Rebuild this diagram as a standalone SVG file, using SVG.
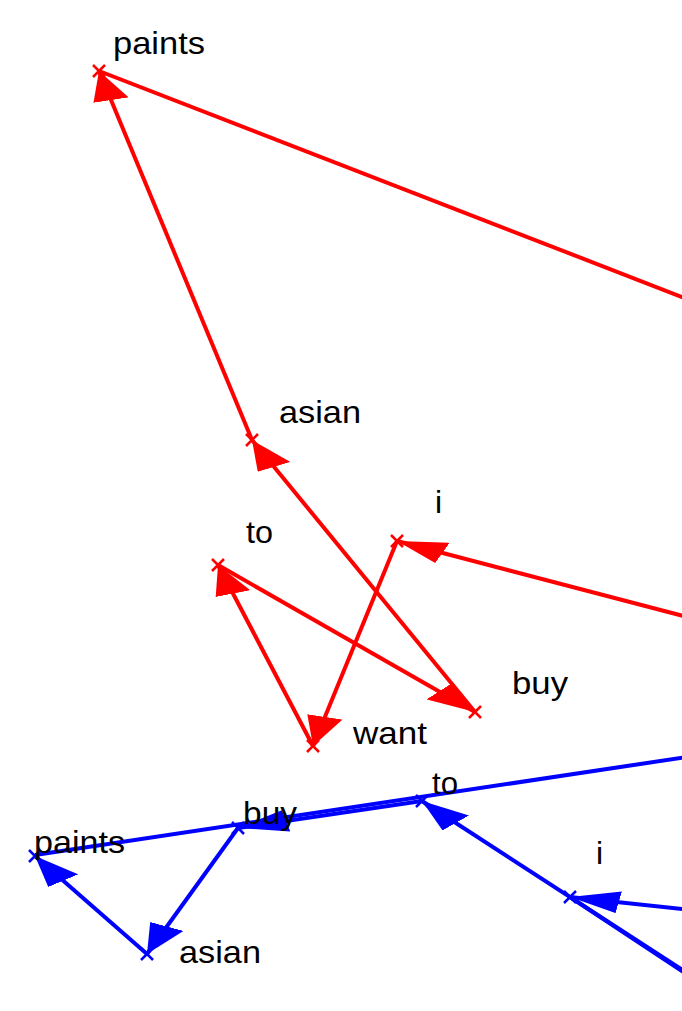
<svg xmlns="http://www.w3.org/2000/svg" width="682" height="1011" viewBox="0 0 682 1011">
  <style>
    .lbl { font-family: "Liberation Sans", Arial, sans-serif; font-size: 32px; fill: #000; }
    .er { stroke: #ff0000; stroke-width: 4; fill: none; }
    .eb { stroke: #0000ff; stroke-width: 4; fill: none; }
    .xr { stroke: #ff0000; stroke-width: 2.5; fill: none; }
    .xb { stroke: #0000ff; stroke-width: 2.5; fill: none; }
  </style>
  <defs>
    <marker id="ahr" markerUnits="userSpaceOnUse" viewBox="0 0 30 22" markerWidth="30" markerHeight="22" refX="30" refY="11" orient="auto">
      <path d="M0,0 L30,11 L0,22 Z" fill="#ff0000"/>
    </marker>
    <marker id="ahb" markerUnits="userSpaceOnUse" viewBox="0 0 30 22" markerWidth="30" markerHeight="22" refX="30" refY="11" orient="auto">
      <path d="M0,0 L30,11 L0,22 Z" fill="#0000ff"/>
    </marker>
    <path id="xm" d="M-6,-6 L6,6 M-6,6 L6,-6"/>
  </defs>
  <rect width="682" height="1011" fill="#ffffff"/>

  <g id="connectors" transform="scale(1.65,1)">
    <line class="er" vector-effect="non-scaling-stroke" x1="424.24" y1="620.4" x2="240.61" y2="541" marker-end="url(#ahr)"/>
    <line class="er" vector-effect="non-scaling-stroke" x1="240.61" y1="541" x2="189.70" y2="746" marker-end="url(#ahr)"/>
    <line class="er" vector-effect="non-scaling-stroke" x1="189.70" y1="746" x2="132.12" y2="565" marker-end="url(#ahr)"/>
    <line class="er" vector-effect="non-scaling-stroke" x1="132.12" y1="565" x2="287.88" y2="712" marker-end="url(#ahr)"/>
    <line class="er" vector-effect="non-scaling-stroke" x1="287.88" y1="712" x2="152.73" y2="440" marker-end="url(#ahr)"/>
    <line class="er" vector-effect="non-scaling-stroke" x1="152.73" y1="440" x2="60.00" y2="71" marker-end="url(#ahr)"/>
    <line class="er" vector-effect="non-scaling-stroke" x1="60.00" y1="71" x2="424.24" y2="304"/>

    <line class="eb" vector-effect="non-scaling-stroke" x1="424.24" y1="911" x2="345.45" y2="897" marker-end="url(#ahb)"/>
    <line class="eb" vector-effect="non-scaling-stroke" x1="345.45" y1="897" x2="424.24" y2="983"/>
    <line class="eb" vector-effect="non-scaling-stroke" x1="424.24" y1="981.3" x2="255.76" y2="801" marker-end="url(#ahb)"/>
    <line class="eb" vector-effect="non-scaling-stroke" x1="255.76" y1="801" x2="144.24" y2="828" marker-end="url(#ahb)"/>
    <line class="eb" vector-effect="non-scaling-stroke" x1="144.24" y1="828" x2="89.09" y2="954" marker-end="url(#ahb)"/>
    <line class="eb" vector-effect="non-scaling-stroke" x1="89.09" y1="954" x2="21.21" y2="856" marker-end="url(#ahb)"/>
    <line class="eb" vector-effect="non-scaling-stroke" x1="21.21" y1="855" x2="424.24" y2="755"/>
  </g>

  <g id="red-paints"><use href="#xm" class="xr" x="99" y="71"/><text class="lbl" x="113" y="54" textLength="92" lengthAdjust="spacingAndGlyphs">paints</text></g>
  <g id="red-asian"><use href="#xm" class="xr" x="252" y="440"/><text class="lbl" x="279" y="423" textLength="82" lengthAdjust="spacingAndGlyphs">asian</text></g>
  <g id="red-to"><use href="#xm" class="xr" x="218" y="565"/><text class="lbl" x="246" y="543" textLength="27" lengthAdjust="spacingAndGlyphs">to</text></g>
  <g id="red-i"><use href="#xm" class="xr" x="397" y="541"/><text class="lbl" x="435" y="513">i</text></g>
  <g id="red-want"><use href="#xm" class="xr" x="313" y="746"/><text class="lbl" x="353" y="744" textLength="74" lengthAdjust="spacingAndGlyphs">want</text></g>
  <g id="red-buy"><use href="#xm" class="xr" x="475" y="712"/><text class="lbl" x="512" y="694" textLength="56" lengthAdjust="spacingAndGlyphs">buy</text></g>

  <g id="blue-paints"><use href="#xm" class="xb" x="35" y="856"/><text class="lbl" x="34" y="853" textLength="91" lengthAdjust="spacingAndGlyphs">paints</text></g>
  <g id="blue-asian"><use href="#xm" class="xb" x="147" y="954"/><text class="lbl" x="179" y="963" textLength="82" lengthAdjust="spacingAndGlyphs">asian</text></g>
  <g id="blue-buy"><use href="#xm" class="xb" x="238" y="828"/><text class="lbl" x="243" y="824" textLength="54" lengthAdjust="spacingAndGlyphs">buy</text></g>
  <g id="blue-to"><use href="#xm" class="xb" x="422" y="801"/><text class="lbl" x="432" y="794" textLength="26" lengthAdjust="spacingAndGlyphs">to</text></g>
  <g id="blue-i"><use href="#xm" class="xb" x="570" y="897"/><text class="lbl" x="596" y="864">i</text></g>
</svg>
